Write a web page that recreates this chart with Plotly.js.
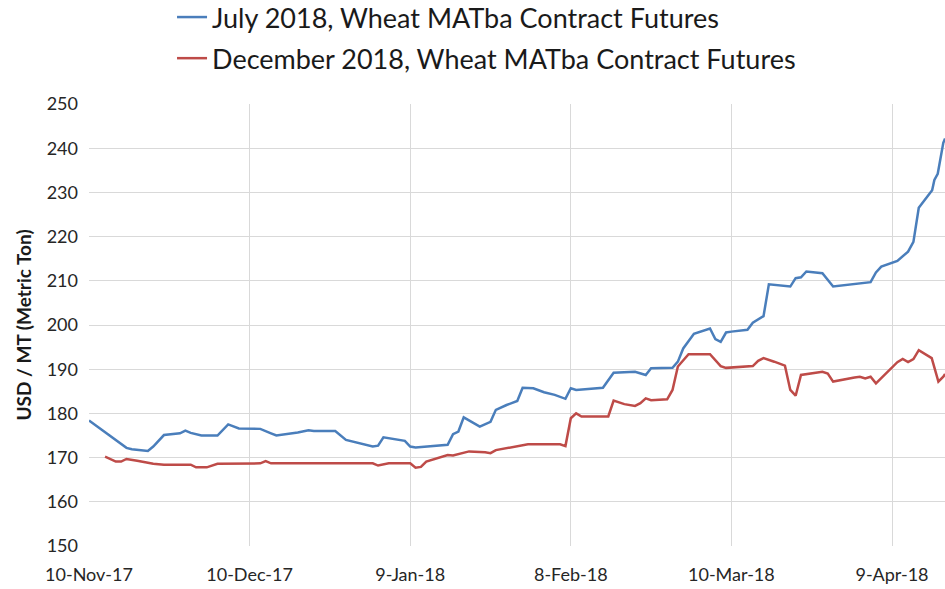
<!DOCTYPE html>
<html>
<head>
<meta charset="utf-8">
<script src="https://cdn.plot.ly/plotly-3.0.1.min.js"></script>
<style>html,body{margin:0;padding:0;background:#fff;}#chart{width:945px;height:589px;}</style>
</head>
<body>
<div id="chart"></div>
<script>
// July 2018 contract (USD / MT)
const julyDates = ["2017-11-10","2017-11-15","2017-11-17","2017-11-18","2017-11-21","2017-11-22","2017-11-24","2017-11-27","2017-11-28","2017-11-29","2017-12-01","2017-12-04","2017-12-06","2017-12-08","2017-12-12","2017-12-14","2017-12-15","2017-12-19","2017-12-21","2017-12-22","2017-12-26","2017-12-28","2017-12-31","2018-01-02","2018-01-03","2018-01-04","2018-01-08","2018-01-09","2018-01-10","2018-01-16","2018-01-17","2018-01-18","2018-01-19","2018-01-22","2018-01-24","2018-01-25","2018-01-27","2018-01-29","2018-01-30","2018-02-01","2018-02-03","2018-02-05","2018-02-07","2018-02-08","2018-02-09","2018-02-14","2018-02-16","2018-02-20","2018-02-22","2018-02-23","2018-02-27","2018-02-28","2018-03-01","2018-03-03","2018-03-06","2018-03-07","2018-03-08","2018-03-09","2018-03-10","2018-03-13","2018-03-14","2018-03-16","2018-03-17","2018-03-21","2018-03-22","2018-03-23","2018-03-24","2018-03-27","2018-03-29","2018-04-02","2018-04-05","2018-04-06","2018-04-07","2018-04-10","2018-04-12","2018-04-13","2018-04-14","2018-04-16 12:00","2018-04-16 22:00","2018-04-17 13:00","2018-04-18 14:00","2018-04-18 22:00"];
const julyValues = [178.4,174.1,172.2,171.9,171.5,172.5,175.1,175.5,176.1,175.6,175.0,175.0,177.5,176.6,176.5,175.5,175.0,175.7,176.2,176.0,176.0,174.0,173.2,172.5,172.7,174.6,173.8,172.5,172.3,172.9,175.3,175.9,179.1,177.0,178.1,180.8,181.9,182.8,185.8,185.7,184.8,184.2,183.3,185.7,185.3,185.8,189.2,189.4,188.7,190.2,190.3,191.7,194.7,198.0,199.2,196.8,196.2,198.3,198.5,198.9,200.5,202.0,209.2,208.7,210.6,210.8,212.1,211.7,208.7,209.3,209.7,211.9,213.2,214.5,216.6,218.8,226.5,230.5,232.8,234.2,241.2,242.2];

// December 2018 contract (USD / MT)
const decDates = ["2017-11-13","2017-11-15","2017-11-16","2017-11-17","2017-11-19","2017-11-22","2017-11-24","2017-11-29","2017-11-30","2017-12-02","2017-12-04","2017-12-12","2017-12-13","2017-12-14","2018-01-02","2018-01-03","2018-01-05","2018-01-09","2018-01-10","2018-01-11","2018-01-12","2018-01-16","2018-01-17","2018-01-20","2018-01-23","2018-01-24","2018-01-25","2018-01-29","2018-01-31","2018-02-06","2018-02-07","2018-02-08","2018-02-09","2018-02-10","2018-02-15","2018-02-16","2018-02-18","2018-02-20","2018-02-21","2018-02-22","2018-02-23","2018-02-26","2018-02-27","2018-02-28","2018-03-02","2018-03-06","2018-03-08","2018-03-09","2018-03-14","2018-03-15","2018-03-16","2018-03-18","2018-03-20","2018-03-21","2018-03-22","2018-03-23","2018-03-27","2018-03-28","2018-03-29","2018-04-02","2018-04-03","2018-04-04","2018-04-05","2018-04-06","2018-04-10","2018-04-11","2018-04-12","2018-04-13","2018-04-14","2018-04-16 10:00","2018-04-17 16:00","2018-04-18 14:00","2018-04-18 22:00"];
const decValues = [170.2,169.1,169.1,169.7,169.3,168.6,168.4,168.4,167.8,167.8,168.6,168.7,169.2,168.7,168.7,168.2,168.7,168.7,167.7,167.9,169.1,170.6,170.5,171.4,171.2,171.0,171.7,172.5,173.0,173.0,172.6,178.9,180.0,179.3,179.3,182.9,182.1,181.7,182.3,183.4,183.0,183.2,185.3,190.6,193.4,193.4,190.7,190.3,190.7,191.9,192.5,191.7,190.8,185.3,184.0,188.7,189.4,189.0,187.2,188.1,188.3,187.9,188.3,186.8,191.6,192.3,191.6,192.3,194.3,192.5,187.2,188.3,188.9];

const seriesNames = ["July 2018, Wheat MATba Contract Futures","December 2018, Wheat MATba Contract Futures"];
const tickDates = ["2017-11-10","2017-12-10","2018-01-09","2018-02-08","2018-03-10","2018-04-09"];
const tickLabels = ["10-Nov-17","10-Dec-17","9-Jan-18","8-Feb-18","10-Mar-18","9-Apr-18"];
const yTitle = "USD / MT (Metric Ton)";

const FONT = "Lato, 'Open Sans', sans-serif";

const traces = [
  {x: julyDates, y: julyValues, name: seriesNames[0], type: "scatter", mode: "lines",
   line: {color: "#4a7ebb", width: 2.5}, legendgroup: "a"},
  {x: decDates, y: decValues, name: seriesNames[1], type: "scatter", mode: "lines",
   line: {color: "#be4b48", width: 2.5}, legendgroup: "b"}
];

const layout = {
  width: 945, height: 589,
  paper_bgcolor: "#ffffff", plot_bgcolor: "#ffffff",
  margin: {l: 89, r: 0, t: 104, b: 43, autoexpand: false},
  font: {family: FONT, color: "#262626", size: 18},
  showlegend: true,
  legend: {
    xref: "paper", yref: "paper",
    x: 0.097, y: 1.2511, xanchor: "left", yanchor: "top",
    font: {family: FONT, size: 27, color: "#1a1a1a"},
    tracegroupgap: 3, bgcolor: "rgba(0,0,0,0)"
  },
  xaxis: {
    type: "date",
    range: ["2017-11-10", "2018-04-18 21:36"],
    tickvals: tickDates, ticktext: tickLabels, tickangle: 0,
    showgrid: true, gridcolor: "#d9d9d9", gridwidth: 1,
    zeroline: false, showline: false, ticks: "",
    ticklabelstandoff: 16, automargin: false,
    tickfont: {family: FONT, size: 18, color: "#262626"},
    fixedrange: true
  },
  yaxis: {
    range: [150, 250], dtick: 10, tick0: 150,
    showgrid: true, gridcolor: "#d9d9d9", gridwidth: 1,
    zeroline: false, showline: false, ticks: "",
    ticklabelstandoff: 10, automargin: false,
    tickfont: {family: FONT, size: 18, color: "#262626"},
    title: {text: yTitle, font: {family: FONT, size: 19, weight: "bold", color: "#1a1a1a"}, standoff: 10},
    fixedrange: true
  }
};

Plotly.newPlot("chart", traces, layout, {displayModeBar: false, staticPlot: true});
</script>
</body>
</html>
